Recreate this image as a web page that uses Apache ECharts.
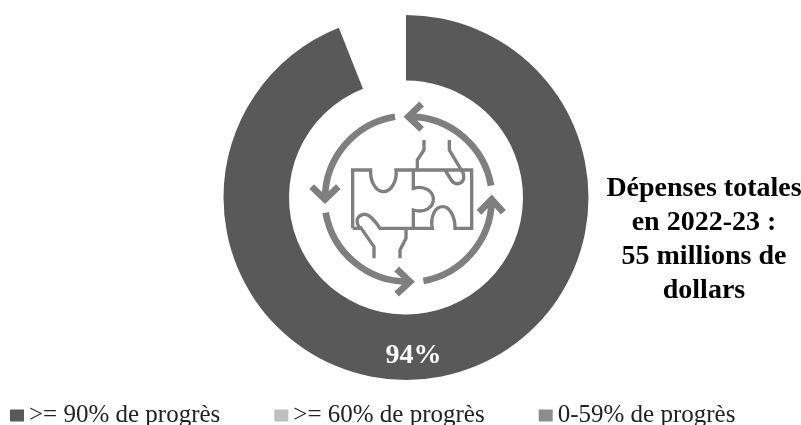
<!DOCTYPE html>
<html>
<head>
<meta charset="utf-8">
<script src="https://cdn.jsdelivr.net/npm/echarts@6/dist/echarts.min.js"></script>
<style>
  html, body { margin: 0; background: #fff; }
  #chart-container { width: 801px; height: 425px; }
</style>
</head>
<body>
<div id="chart-container"></div>
<script>
var categories = ['>= 90% de progrès', '>= 60% de progrès', '0-59% de progrès'];
var values = [94, 0, 0];
var remainder = 6;
var colors = ['#595959', '#bfbfbf', '#8c8c8c'];
var sideText = 'Dépenses totales\nen 2022-23 :\n55 millions de\ndollars';

var serif = '"Liberation Serif", "Times New Roman", serif';
var iconColor = '#7f7f7f';

// icon paths, drawn in a 3x space then scaled down
var iconArrows = [
  'M335 80 A250 250 0 0 1 573 287 M365 42 L325 80 L365 118',
  'M370 573 A250 250 0 0 0 575 335 M537 367 L575 328 L610 367',
  'M77 368 A250 250 0 0 0 325 575 M290 537 L330 575 L290 612',
  'M285 80 A250 250 0 0 0 75 325 M35 290 L75 328 L115 290'
];
var iconPuzzle = [
  'M158 415 V240 H212 C210 270 225 305 250 305 C275 305 292 270 288 240 H515 V415 H465 C465 380 450 350 428 350 C405 350 390 380 397 415 H340',
  'M340 240 V295 C375 285 400 305 400 328 C400 352 375 370 340 360 V415 H240 C220 385 205 370 190 373 C170 378 165 395 180 415 H158',
  'M222 505 V470 L180 410',
  'M318 415 V445 L300 480 V505',
  'M372 150 V180 L352 210 V240',
  'M448 150 V180 L490 250 C497 280 470 290 455 272 L435 240'
];

function iconPath(d, width) {
  return {
    type: 'path',
    shape: { pathData: d },
    style: { fill: null, stroke: iconColor, lineWidth: width }
  };
}

var chartDom = document.getElementById('chart-container');
var myChart = echarts.init(chartDom);

var pieData = categories.map(function (name, i) {
  return {
    name: name,
    value: values[i],
    itemStyle: { color: colors[i] },
    label: { show: i === 0 }
  };
});
pieData.push({ name: 'reste', value: remainder, itemStyle: { color: 'transparent' }, label: { show: false } });

var option = {
  backgroundColor: '#fff',
  animation: false,
  title: {
    text: sideText,
    left: 699,
    top: 167,
    textAlign: 'center',
    textStyle: { fontFamily: serif, fontSize: 28, fontWeight: 'bold', color: '#000', lineHeight: 34 }
  },
  legend: {
    data: categories,
    left: 5,
    top: 398,
    icon: 'rect',
    itemWidth: 14,
    itemHeight: 12,
    itemGap: 54,
    textStyle: { fontFamily: serif, fontSize: 25, color: '#222' }
  },
  series: [
    {
      type: 'pie',
      center: [406, 197.5],
      radius: [117, 182.5],
      startAngle: 90,
      clockwise: true,
      label: {
        position: 'inside',
        formatter: '{c}%',
        fontFamily: serif,
        fontSize: 28,
        fontWeight: 'bold',
        color: '#fff'
      },
      labelLine: { show: false },
      labelLayout: { dx: -21, dy: 8 },
      emphasis: { disabled: true },
      data: pieData
    },
    {
      // puzzle and arrows icon in the middle of the ring
      type: 'custom',
      coordinateSystem: 'none',
      silent: true,
      data: [0],
      renderItem: function () {
        return {
          type: 'group',
          x: 300,
          y: 90,
          scaleX: 1 / 3,
          scaleY: 1 / 3,
          children: iconArrows.map(function (d) { return iconPath(d, 20); })
            .concat(iconPuzzle.map(function (d) { return iconPath(d, 10); }))
        };
      }
    }
  ]
};

option && myChart.setOption(option);
</script>
</body>
</html>
